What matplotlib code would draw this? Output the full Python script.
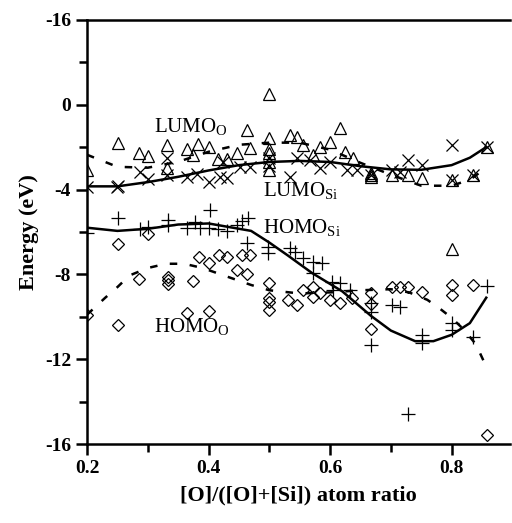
import numpy as np
import matplotlib.pyplot as plt

plt.rcParams['font.family'] = ['Liberation Serif', 'DejaVu Serif']
plt.rcParams['mathtext.fontset'] = 'custom'
plt.rcParams['mathtext.rm'] = 'Liberation Serif'

# LUMO(O) - triangles
lo_x = [0.2, 0.251, 0.286, 0.3, 0.332, 0.332, 0.365, 0.383, 0.4, 0.375, 0.416, 0.43,
        0.463, 0.5, 0.534, 0.546, 0.556, 0.584, 0.6, 0.616, 0.625, 0.638, 0.447, 0.468,
        0.5, 0.5, 0.572, 0.5, 0.5, 0.5, 0.667, 0.667, 0.667, 0.702, 0.728, 0.751, 0.8,
        0.835, 0.858, 0.8]
lo_y = [-3.07, -1.79, -2.27, -2.41, -1.89, -2.97, -2.08, -1.84, -1.98, -2.36, -2.55, -2.55,
        -1.18, -1.56, -1.42, -1.51, -1.89, -1.98, -1.75, -1.09, -2.22, -2.5, -2.27, -2.03,
        -3.07, -2.69, -2.36, 0.5, -2.1, -2.3, -3.3, -3.2, -3.4, -3.3, -3.3, -3.45, -3.54,
        -3.3, -1.98, -6.8]

# LUMO(Si) - crosses
ls_x = [0.2, 0.251, 0.287, 0.3, 0.332, 0.332, 0.365, 0.381, 0.4, 0.419, 0.43, 0.424,
        0.452, 0.468, 0.5, 0.534, 0.546, 0.567, 0.584, 0.6, 0.628, 0.644, 0.667, 0.702,
        0.715, 0.728, 0.751, 0.8, 0.8, 0.835, 0.858, 0.25, 0.5]
ls_y = [-3.87, -3.82, -3.16, -3.49, -3.3, -2.5, -3.4, -3.26, -3.63, -3.4, -3.45, -2.69,
        -2.93, -2.93, -2.5, -3.4, -2.5, -2.6, -2.97, -2.69, -3.07, -3.07, -3.3, -3.07,
        -3.16, -2.6, -2.83, -1.89, -3.54, -3.3, -1.98, -3.9, -2.9]

# HOMO(Si) - plus
hs_x = [0.2, 0.251, 0.287, 0.3, 0.333, 0.333, 0.365, 0.378, 0.386, 0.402, 0.4, 0.416,
        0.43, 0.465, 0.455, 0.447, 0.463, 0.498, 0.498, 0.534, 0.542, 0.556, 0.572, 0.587,
        0.572, 0.603, 0.616, 0.605, 0.633, 0.667, 0.667, 0.667, 0.702, 0.715, 0.751, 0.751,
        0.728, 0.8, 0.8, 0.835, 0.858]
hs_y = [-6.04, -5.33, -5.85, -5.76, -5.43, -5.66, -5.8, -5.52, -5.8, -4.96, -5.8, -5.85,
        -5.95, -5.33, -5.47, -5.66, -6.51, -6.7, -6.98, -6.75, -6.94, -7.22, -7.41, -7.46,
        -7.93, -8.35, -8.4, -8.73, -8.73, -9.34, -9.77, -11.33, -9.44, -9.53, -10.85, -11.23,
        -14.58, -10.29, -10.62, -10.95, -8.54]

# HOMO(O) - diamonds
ho_x = [0.2, 0.251, 0.251, 0.286, 0.3, 0.333, 0.333, 0.333, 0.365, 0.375, 0.384, 0.401,
        0.401, 0.417, 0.43, 0.447, 0.463, 0.455, 0.468, 0.5, 0.5, 0.5, 0.5, 0.531, 0.546,
        0.556, 0.572, 0.572, 0.584, 0.6, 0.616, 0.636, 0.667, 0.667, 0.667, 0.702, 0.715,
        0.728, 0.751, 0.8, 0.8, 0.835, 0.858]
ho_y = [-9.91, -6.56, -10.38, -8.21, -6.09, -8.12, -8.26, -8.45, -9.82, -8.31, -7.17, -7.46,
        -9.72, -7.08, -7.17, -7.79, -7.98, -7.08, -7.08, -8.4, -9.11, -9.3, -9.67, -9.2, -9.44,
        -8.73, -8.59, -9.06, -8.87, -9.2, -9.34, -9.11, -8.87, -9.39, -10.57, -8.59, -8.59,
        -8.59, -8.82, -8.49, -8.97, -8.49, -15.57]

# fitted curves
c_ls_x = [0.2, 0.25, 0.3, 0.35, 0.4, 0.45, 0.5, 0.55, 0.6, 0.65, 0.7, 0.75, 0.8, 0.83, 0.857]
c_ls_y = [-3.85, -3.85, -3.65, -3.4, -3.1, -2.85, -2.7, -2.65, -2.7, -2.9, -3.05, -3.07,
          -2.85, -2.5, -2.0]
c_lo_x = [0.2, 0.25, 0.3, 0.35, 0.4, 0.45, 0.5, 0.55, 0.6, 0.65, 0.7, 0.75, 0.8, 0.83, 0.857]
c_lo_y = [-2.36, -2.93, -2.97, -2.69, -2.22, -1.89, -1.79, -1.79, -2.12, -2.74, -3.3, -3.82,
          -3.82, -3.54, -2.97]
c_hs_x = [0.2, 0.25, 0.3, 0.35, 0.4, 0.43, 0.47, 0.5, 0.53, 0.57, 0.62, 0.667, 0.7, 0.74,
          0.77, 0.8, 0.83, 0.857]
c_hs_y = [-5.8, -5.95, -5.85, -5.65, -5.6, -5.75, -5.95, -6.5, -7.1, -7.93, -8.8, -9.95,
          -10.65, -11.15, -11.15, -10.85, -10.3, -9.1]
c_ho_x = [0.2, 0.23, 0.25, 0.27, 0.3, 0.33, 0.36, 0.39, 0.41, 0.44, 0.47, 0.5, 0.55, 0.6,
          0.65, 0.7, 0.73, 0.76, 0.78, 0.8, 0.82, 0.84, 0.857]
c_ho_y = [-9.9, -9.1, -8.6, -8.05, -7.7, -7.5, -7.5, -7.7, -7.9, -8.2, -8.5, -8.75, -8.9,
          -8.85, -8.75, -8.7, -8.85, -9.2, -9.6, -10.05, -10.6, -11.3, -12.35]

fig = plt.figure(figsize=(5.12, 5.23), dpi=100)
ax = fig.add_axes([0.170, 0.151, 0.826, 0.811])

mk = dict(linestyle='none', mfc='none', mec='black', mew=0.9)
ax.plot(lo_x, lo_y, marker='^', markersize=8, **mk)
ax.plot(ls_x, ls_y, marker='x', markersize=8, **mk)
ax.plot(hs_x, hs_y, marker='+', markersize=10, **mk)
ax.plot(ho_x, ho_y, marker='D', markersize=6, **mk)

ax.plot(c_ls_x, c_ls_y, color='black', lw=1.8)
ax.plot(c_hs_x, c_hs_y, color='black', lw=1.8)
ax.plot(c_lo_x, c_lo_y, color='black', lw=1.8, dashes=(3, 5))
ax.plot(c_ho_x, c_ho_y, color='black', lw=1.8, dashes=(3, 5))

ax.text(0.31, -1.05, r'LUMO$_{\mathrm{O}}$', fontsize=15, va='center')
ax.text(0.49, -4.1, r'LUMO$_{\mathrm{Si}}$', fontsize=15, va='center')
ax.text(0.49, -5.8, r'HOMO$_{\mathrm{Si}}$', fontsize=15, va='center')
ax.text(0.31, -10.5, r'HOMO$_{\mathrm{O}}$', fontsize=15, va='center')

ax.set_xlim(0.2, 0.896)
ax.set_ylim(-16, 4)
ax.set_xticks([0.2, 0.4, 0.6, 0.8])
ax.set_xticklabels(['0.2', '0.4', '0.6', '0.8'])
ax.set_xticks([0.3, 0.5, 0.7], minor=True)
ax.set_yticks([4, 0, -4, -8, -12, -16])
ax.set_yticklabels(['-16', '0', '-4', '-8', '-12', '-16'])
ax.set_yticks([2, -2, -6, -10, -14], minor=True)
ax.tick_params(which='major', direction='out', length=8, width=1.8, labelsize=14)
ax.tick_params(which='minor', direction='out', length=6, width=1.8)
for lab in ax.get_xticklabels() + ax.get_yticklabels():
    lab.set_fontweight('bold')

ax.spines['right'].set_visible(False)
for s in ['left', 'bottom', 'top']:
    ax.spines[s].set_linewidth(1.8)

ax.set_xlabel('[O]/([O]+[Si]) atom ratio', fontsize=16, fontweight='bold', labelpad=6)
ax.set_ylabel('Energy (eV)', fontsize=16, fontweight='bold', labelpad=4)

fig.savefig('out.png', dpi=100)
